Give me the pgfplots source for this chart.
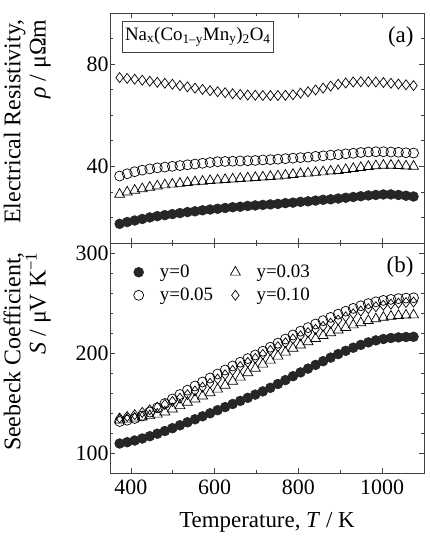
\documentclass[border=0pt]{standalone}
\usepackage{fontspec}
\setmainfont{Liberation Serif}
\usepackage{pgfplots}
\pgfplotsset{compat=1.18}
\usepackage{pgfplotstable}

\pgfplotstableread{
T rho0 rho3 rho5 rho10
373 17.5 29.0 36.2 74.7
391 18.2 29.9 37.1 74.4
409 18.8 30.6 37.9 74.1
427 19.4 31.2 38.5 73.7
445 20.0 31.8 39.0 73.3
463 20.5 32.3 39.4 72.9
481 20.9 32.7 39.7 72.5
499 21.3 33.0 40.0 72.1
517 21.7 33.3 40.3 71.6
535 22.1 33.6 40.6 71.1
553 22.4 33.9 40.9 70.6
571 22.8 34.1 41.2 70.1
589 23.1 34.4 41.5 69.6
607 23.4 34.6 41.8 69.2
625 23.7 34.8 41.9 68.8
643 24.0 35.0 42.0 68.4
661 24.2 35.2 42.1 68.1
679 24.5 35.4 42.2 67.9
697 24.7 35.6 42.3 67.8
715 24.9 35.8 42.5 67.7
733 25.1 36.0 42.6 67.7
751 25.3 36.2 42.8 67.7
769 25.6 36.5 43.0 67.8
787 25.8 36.8 43.2 68.0
805 26.1 37.1 43.4 68.6
823 26.3 37.3 43.6 69.2
841 26.6 37.6 43.9 69.9
859 26.9 37.8 44.1 70.6
877 27.1 38.1 44.4 71.4
895 27.4 38.3 44.6 72.1
913 27.7 38.7 44.9 72.6
931 28.0 39.1 45.1 73.0
949 28.3 39.5 45.4 73.1
967 28.6 39.9 45.6 73.1
985 28.8 40.2 45.7 73.0
1003 29.0 40.4 45.7 72.8
1021 29.0 40.4 45.6 72.5
1039 28.8 40.3 45.5 72.2
1057 28.5 40.1 45.3 71.9
1075 28.2 40.0 45.2 71.6
}\rhotable

\pgfplotstableread{
T S0 S3 S5 S10
373 109.5 133.0 131.5 135.0
391 110.8 133.8 132.8 136.5
409 112.5 134.8 134.5 138.3
427 114.5 136.0 137.0 140.6
445 116.8 137.3 141.0 143.2
463 119.3 138.8 145.2 145.9
481 122.0 141.0 149.5 148.6
499 124.8 144.0 154.0 151.5
517 127.7 147.3 158.5 154.8
535 130.7 150.6 162.8 158.4
553 133.7 153.9 167.0 162.0
571 136.7 157.0 171.0 165.8
589 139.7 160.2 175.0 169.8
607 142.8 163.8 179.0 174.0
625 145.9 167.6 183.0 178.3
643 149.0 171.6 187.0 182.6
661 152.1 175.8 190.8 186.6
679 155.2 180.2 194.4 190.6
697 158.4 184.6 198.0 194.6
715 161.6 188.8 201.8 198.6
733 165.2 192.8 205.8 202.6
751 169.0 196.8 209.8 206.4
769 172.9 200.8 214.0 210.2
787 176.8 204.6 218.0 214.0
805 180.6 208.0 221.8 217.2
823 184.4 211.2 225.4 220.4
841 188.1 214.4 229.0 223.6
859 191.8 217.4 232.4 226.6
877 195.4 220.2 235.6 229.8
895 198.9 222.9 238.8 233.0
913 202.2 225.5 241.8 236.2
931 205.3 228.0 244.6 239.2
949 208.1 230.2 247.2 242.0
967 210.6 232.3 249.4 244.4
985 212.6 234.1 251.2 246.3
1003 214.0 235.6 252.6 247.8
1021 215.0 236.7 253.6 248.9
1039 215.6 237.4 254.4 249.8
1057 216.0 237.8 254.9 250.5
1075 216.2 238.0 255.2 251.0
}\Stable

\newcommand\fs{\fontsize{22}{26}\selectfont}
\newcommand\lfs{\fontsize{23}{25.5}\selectfont}
\newcommand\yfs{\fontsize{24}{25.5}\selectfont}

\pgfplotsset{
  myaxis/.style={
    scale only axis, width=314bp, height=230bp,
    xmin=350, xmax=1100,
    xtick={400,600,800,1000}, minor xtick={500,700,900},
    tick align=inside, xtick pos=both, ytick pos=both,
    major tick length=5bp, minor tick length=3bp,
    axis line style={black!75, line width=0.8bp},
    every tick/.style={black!75, line width=0.7bp},
    tick label style={font=\fs},
    xticklabel style={yshift=-3bp},
    yticklabel style={xshift=2bp},
    label style={font=\lfs},
    /pgf/number format/assume math mode=true,
    /pgf/number format/1000 sep={},
    ylabel style={font=\yfs, align=right, at={(axis description cs:0,0.528)}, anchor=south, inner sep=0pt, yshift=59bp},
  },
  lic/.style={legend image code/.code={\path (0bp,0bp) (33bp,0bp); \draw[mark repeat=2,mark phase=2,##1] plot coordinates {(0bp,0bp)(14bp,0bp)(28bp,0bp)};}},
  m0/.style={only marks, lic, mark=*, mark size=4.9bp, mark options={fill=black!85, draw=black!85, line width=0.6bp}},
  m3/.style={only marks, lic, mark=triangle, mark size=5.8bp, mark options={fill=white, draw=black, line width=0.7bp}},
  m5/.style={only marks, lic, mark=o, mark size=5bp, mark options={fill=white, draw=black, line width=0.7bp}},
  m10/.style={only marks, lic, mark=diamond, mark size=5bp, mark options={fill=white, draw=black, line width=0.7bp}},
}

\begin{document}
\begin{tikzpicture}
\begin{axis}[myaxis, name=top,
  ymin=10, ymax=100, ytick={40,80}, minor ytick={20,30,50,60,70,90},
  xticklabels={},
  ylabel={Electrical Resistivity,\\\textit{ρ} / μΩm},
]
\addplot[m0] table[x=T, y=rho0] {\rhotable};
\addplot[m10] table[x=T, y=rho10] {\rhotable};
\addplot[m3] table[x=T, y=rho3] {\rhotable};
\addplot[m5] table[x=T, y=rho5] {\rhotable};
\node[draw=black!75, line width=0.8bp, fill=white, anchor=north west, inner xsep=3bp, inner ysep=6bp, font=\fontsize{19}{22}\selectfont]
  at (rel axis cs:0.037,0.966) {Na\textsubscript{x}(Co\textsubscript{1–y}Mn\textsubscript{y})\textsubscript{2}O\textsubscript{4}};
\node[anchor=north east, inner sep=0pt, font=\lfs] at (rel axis cs:0.967,0.94) {(a)};
\coordinate (TR) at (rel axis cs:1,1);
\end{axis}

\begin{axis}[myaxis, at={(top.south west)}, anchor=north west,
  ymin=80, ymax=310, ytick={100,200,300}, minor ytick={120,140,160,180,220,240,260,280},
  xlabel={Temperature, \textit{T} / K},
  xlabel style={at={(axis description cs:0.5,0)}, anchor=base, inner sep=0pt, yshift=-54bp},
  ylabel={Seebeck Coefficient,\\\textit{S} / μV K\textsuperscript{−1}},
  legend columns=2,
  legend style={draw=none, fill=none, inner sep=0pt, font=\fontsize{19}{21}\selectfont,
    at={(axis description cs:0.0456,0.913)}, anchor=north west,
    row sep=5bp,
    /tikz/every even column/.append style={column sep=6bp}},
  legend cell align=left,
]
\addplot[m0, forget plot] table[x=T, y=S0] {\Stable};
\addplot[m10, forget plot] table[x=T, y=S10] {\Stable};
\addplot[m3, forget plot] table[x=T, y=S3] {\Stable};
\addplot[m5, forget plot] table[x=T, y=S5] {\Stable};
\addlegendimage{m0}
\addlegendentry{y=0}
\addlegendimage{m3}
\addlegendentry{y=0.03}
\addlegendimage{m5}
\addlegendentry{y=0.05}
\addlegendimage{m10}
\addlegendentry{y=0.10}
\node[anchor=north east, inner sep=0pt, font=\lfs] at (rel axis cs:0.967,0.94) {(b)};
\coordinate (BL) at (rel axis cs:0,0);
\end{axis}
\pgfresetboundingbox
\path ([shift={(-110bp,-63bp)}]BL) rectangle ([shift={(6bp,13bp)}]TR);
\end{tikzpicture}
\end{document}
